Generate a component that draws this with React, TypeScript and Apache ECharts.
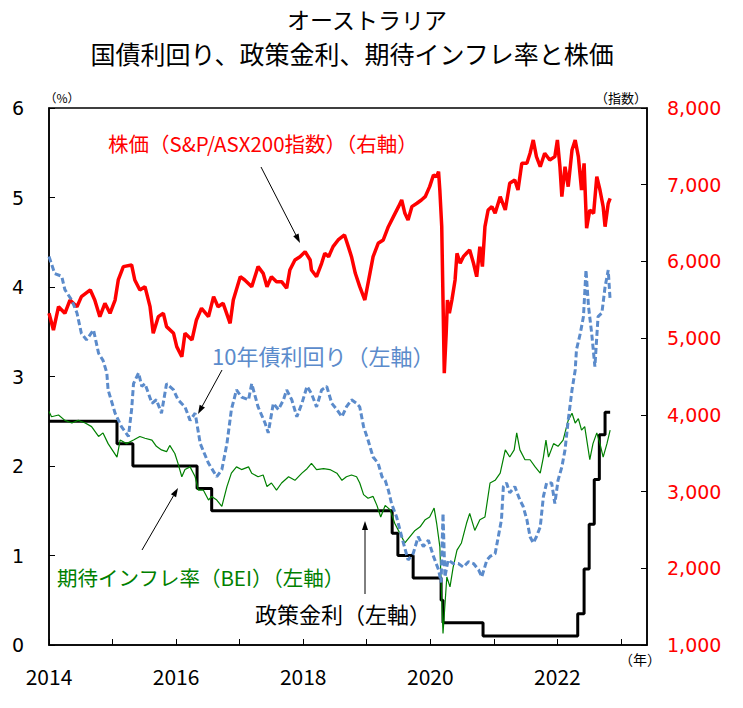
import React, { useEffect, useRef } from "react";
import * as echarts from "echarts";

const titleLine1 = "オーストラリア";
const titleLine2 = "国債利回り、政策金利、期待インフレ率と株価";
const labeledYears = [2014, 2016, 2018, 2020, 2022];

// S&P/ASX200 index (right axis) [decimal year, index]
const asx200: [number, number][] = [
  [2014.0, 5324], [2014.07, 5106], [2014.15, 5410], [2014.25, 5324], [2014.33, 5497], [2014.44, 5410],
  [2014.51, 5541], [2014.65, 5628], [2014.72, 5497], [2014.8, 5280], [2014.88, 5454], [2014.96, 5324],
  [2015.04, 5497], [2015.09, 5758], [2015.17, 5932], [2015.3, 5954], [2015.35, 5758], [2015.43, 5628],
  [2015.51, 5671], [2015.59, 5410], [2015.64, 5063], [2015.72, 5280], [2015.8, 5324], [2015.85, 5150],
  [2015.96, 5063], [2016.01, 4889], [2016.09, 4758], [2016.14, 5063], [2016.25, 4976], [2016.32, 5237],
  [2016.4, 5389], [2016.51, 5280], [2016.59, 5541], [2016.66, 5410], [2016.74, 5454], [2016.85, 5193],
  [2016.9, 5497], [2017.01, 5801], [2017.08, 5758], [2017.19, 5671], [2017.29, 5932], [2017.37, 5845],
  [2017.43, 5671], [2017.5, 5801], [2017.58, 5736], [2017.66, 5736], [2017.74, 5650], [2017.79, 5889],
  [2017.87, 6019], [2017.95, 6062], [2018.03, 6127], [2018.11, 6019], [2018.13, 5889], [2018.21, 5801],
  [2018.29, 5976], [2018.34, 6106], [2018.4, 6062], [2018.47, 6193], [2018.55, 6280], [2018.65, 6345],
  [2018.71, 6193], [2018.76, 6062], [2018.82, 5845], [2018.89, 5671], [2018.97, 5497], [2019.05, 5845],
  [2019.1, 6062], [2019.18, 6236], [2019.26, 6280], [2019.34, 6453], [2019.42, 6584], [2019.5, 6714],
  [2019.55, 6801], [2019.6, 6627], [2019.65, 6540], [2019.71, 6714], [2019.79, 6758], [2019.86, 6801],
  [2019.92, 6844], [2019.99, 6975], [2020.05, 7127], [2020.1, 7105], [2020.13, 7170], [2020.15, 6931],
  [2020.18, 6453], [2020.2, 5497], [2020.22, 4542], [2020.25, 5063], [2020.27, 5497], [2020.3, 5324],
  [2020.34, 5497], [2020.39, 5758], [2020.42, 6106], [2020.47, 5976], [2020.52, 6062], [2020.57, 6106],
  [2020.62, 6149], [2020.68, 5976], [2020.73, 5801], [2020.78, 6193], [2020.82, 5932], [2020.86, 6453],
  [2020.91, 6671], [2020.97, 6714], [2021.02, 6627], [2021.1, 6844], [2021.18, 6671], [2021.25, 7019],
  [2021.33, 7062], [2021.38, 6931], [2021.44, 7279], [2021.52, 7279], [2021.57, 7410], [2021.62, 7583],
  [2021.67, 7366], [2021.73, 7235], [2021.8, 7410], [2021.88, 7323], [2021.96, 7366], [2022.0, 7583],
  [2022.04, 7235], [2022.07, 6844], [2022.12, 7235], [2022.17, 6975], [2022.23, 7453], [2022.28, 7583],
  [2022.33, 7366], [2022.38, 6931], [2022.42, 7279], [2022.46, 6432], [2022.51, 6671], [2022.57, 6627],
  [2022.62, 7105], [2022.67, 6931], [2022.72, 6714], [2022.75, 6453], [2022.8, 6758], [2022.83, 6823],
];

// 10-year government bond yield (left axis, %)
const bond10y: [number, number][] = [
  [2014.0, 4.34], [2014.09, 4.15], [2014.2, 4.12], [2014.25, 3.97], [2014.36, 3.85], [2014.44, 3.71],
  [2014.51, 3.48], [2014.59, 3.41], [2014.7, 3.52], [2014.78, 3.26], [2014.85, 3.18], [2014.91, 3.04],
  [2014.93, 2.85], [2015.04, 2.59], [2015.14, 2.44], [2015.25, 2.33], [2015.3, 2.63], [2015.33, 2.92],
  [2015.41, 3.04], [2015.46, 2.89], [2015.51, 2.92], [2015.62, 2.7], [2015.69, 2.74], [2015.77, 2.59],
  [2015.85, 2.92], [2015.96, 2.85], [2016.03, 2.74], [2016.14, 2.66], [2016.22, 2.51], [2016.3, 2.59],
  [2016.38, 2.25], [2016.51, 2.03], [2016.64, 1.88], [2016.72, 1.96], [2016.8, 2.25], [2016.87, 2.63],
  [2016.95, 2.85], [2017.03, 2.77], [2017.14, 2.74], [2017.19, 2.92], [2017.29, 2.66], [2017.4, 2.48],
  [2017.45, 2.37], [2017.53, 2.7], [2017.61, 2.63], [2017.69, 2.74], [2017.74, 2.85], [2017.82, 2.74],
  [2017.9, 2.55], [2017.98, 2.7], [2018.06, 2.89], [2018.13, 2.81], [2018.21, 2.66], [2018.29, 2.85],
  [2018.37, 2.89], [2018.45, 2.7], [2018.53, 2.63], [2018.61, 2.55], [2018.68, 2.66], [2018.76, 2.74],
  [2018.84, 2.7], [2018.89, 2.66], [2018.95, 2.44], [2019.02, 2.29], [2019.1, 2.1], [2019.18, 2.03],
  [2019.24, 1.88], [2019.29, 1.84], [2019.34, 1.73], [2019.39, 1.58], [2019.47, 1.43], [2019.55, 1.21],
  [2019.65, 0.95], [2019.73, 1.02], [2019.81, 1.21], [2019.89, 1.1], [2019.97, 1.17], [2020.05, 0.99],
  [2020.13, 0.84], [2020.17, 0.7], [2020.2, 1.47], [2020.23, 0.76], [2020.28, 0.95], [2020.36, 0.91],
  [2020.44, 0.91], [2020.52, 0.87], [2020.6, 0.93], [2020.68, 0.91], [2020.76, 0.84], [2020.81, 0.76],
  [2020.89, 0.95], [2020.94, 0.99], [2021.02, 1.02], [2021.07, 1.21], [2021.12, 1.4], [2021.15, 1.77],
  [2021.2, 1.81], [2021.25, 1.7], [2021.33, 1.77], [2021.41, 1.62], [2021.46, 1.55], [2021.52, 1.4],
  [2021.57, 1.21], [2021.62, 1.14], [2021.67, 1.21], [2021.73, 1.32], [2021.78, 1.66], [2021.83, 1.81],
  [2021.91, 1.81], [2021.96, 1.58], [2022.01, 1.84], [2022.07, 1.99], [2022.12, 2.18], [2022.17, 2.51],
  [2022.23, 2.85], [2022.28, 3.07], [2022.3, 3.3], [2022.36, 3.48], [2022.41, 3.67], [2022.45, 4.19],
  [2022.49, 3.78], [2022.54, 3.48], [2022.59, 3.11], [2022.64, 3.67], [2022.7, 3.71], [2022.75, 4.0],
  [2022.8, 4.19], [2022.83, 3.85],
];

// Break-even inflation (left axis, %)
const bei: [number, number][] = [
  [2014.0, 2.61], [2014.04, 2.55], [2014.15, 2.57], [2014.25, 2.51], [2014.36, 2.48], [2014.46, 2.51],
  [2014.57, 2.48], [2014.67, 2.44], [2014.78, 2.33], [2014.85, 2.37], [2014.93, 2.25], [2015.07, 2.1],
  [2015.12, 2.29], [2015.22, 2.25], [2015.33, 2.29], [2015.43, 2.33], [2015.51, 2.31], [2015.62, 2.29],
  [2015.69, 2.22], [2015.77, 2.18], [2015.85, 2.16], [2015.9, 2.23], [2015.98, 2.14], [2016.03, 2.03],
  [2016.09, 1.88], [2016.14, 1.96], [2016.22, 1.99], [2016.3, 1.88], [2016.35, 1.73], [2016.43, 1.73],
  [2016.51, 1.62], [2016.56, 1.66], [2016.64, 1.62], [2016.72, 1.55], [2016.8, 1.77], [2016.87, 1.92],
  [2016.95, 1.99], [2017.03, 1.96], [2017.14, 1.99], [2017.19, 1.92], [2017.29, 1.88], [2017.37, 1.9],
  [2017.43, 1.77], [2017.5, 1.81], [2017.58, 1.73], [2017.66, 1.81], [2017.77, 1.88], [2017.87, 1.84],
  [2017.98, 1.92], [2018.06, 1.97], [2018.13, 2.03], [2018.21, 1.96], [2018.32, 1.97], [2018.42, 1.96],
  [2018.53, 1.92], [2018.61, 1.84], [2018.68, 1.88], [2018.76, 1.9], [2018.84, 1.88], [2018.89, 1.81],
  [2018.95, 1.68], [2019.02, 1.64], [2019.1, 1.66], [2019.16, 1.56], [2019.22, 1.43], [2019.29, 1.56],
  [2019.37, 1.51], [2019.44, 1.36], [2019.52, 1.25], [2019.6, 1.14], [2019.68, 1.21], [2019.76, 1.28],
  [2019.84, 1.32], [2019.92, 1.4], [2019.99, 1.43], [2020.06, 1.53], [2020.1, 1.36], [2020.15, 1.1],
  [2020.2, 0.13], [2020.26, 0.76], [2020.31, 0.65], [2020.36, 0.87], [2020.42, 1.06], [2020.49, 1.14],
  [2020.57, 1.36], [2020.62, 1.47], [2020.7, 1.28], [2020.78, 1.4], [2020.86, 1.43], [2020.94, 1.81],
  [2021.02, 1.84], [2021.1, 1.92], [2021.18, 2.18], [2021.25, 2.1], [2021.32, 2.18], [2021.36, 2.37],
  [2021.41, 2.18], [2021.49, 2.07], [2021.57, 2.07], [2021.65, 1.99], [2021.73, 1.92], [2021.78, 2.1],
  [2021.82, 2.29], [2021.86, 2.1], [2021.94, 2.25], [2022.01, 2.22], [2022.09, 2.29], [2022.17, 2.51],
  [2022.23, 2.59], [2022.28, 2.48], [2022.33, 2.53], [2022.38, 2.4], [2022.43, 2.44], [2022.51, 2.07],
  [2022.56, 2.25], [2022.62, 2.37], [2022.67, 2.25], [2022.72, 2.1], [2022.78, 2.25], [2022.83, 2.4],
];

// Policy rate (left axis, %), value holds until next change
const policyRate: [number, number][] = [
  [2014.0, 2.5], [2015.07, 2.25], [2015.32, 2.0], [2016.33, 1.75], [2016.56, 1.5], [2019.4, 1.25],
  [2019.49, 1.0], [2019.73, 0.75], [2020.17, 0.5], [2020.2, 0.25], [2020.83, 0.1], [2022.32, 0.35],
  [2022.42, 0.85], [2022.5, 1.35], [2022.58, 1.85], [2022.66, 2.35], [2022.75, 2.6], [2022.83, 2.6],
];

const CJK = '"Noto Sans CJK JP", "Noto Sans", sans-serif';
const NUM = '"DejaVu Sans", sans-serif';

function arrow(x1: number, y1: number, x2: number, y2: number) {
  const dx = x2 - x1, dy = y2 - y1;
  const len = Math.sqrt(dx * dx + dy * dy);
  const ux = dx / len, uy = dy / len;
  const px = -uy, py = ux;
  const bx = x2 - 9 * ux, by = y2 - 9 * uy;
  return [
    { type: "line", shape: { x1, y1, x2: bx, y2: by }, style: { stroke: "#000", lineWidth: 1 }, z: 100 },
    {
      type: "polygon",
      shape: { points: [[x2, y2], [bx + 3 * px, by + 3 * py], [bx - 3 * px, by - 3 * py]] },
      style: { fill: "#000" },
      z: 100,
    },
  ];
}

function label(text: string, x: number, y: number, color: string, size = 20, align = "left", family = CJK) {
  return {
    type: "text",
    x,
    y,
    z: 100,
    style: { text, fill: color, font: `${size}px ${family}`, textAlign: align, textVerticalAlign: "middle", lineHeight: size },
  };
}

export default function App() {
  const ref = useRef<HTMLDivElement>(null);
  useEffect(() => {
    document.body.style.margin = "0";
    if (!ref.current) return;
    const chart = echarts.init(ref.current, null, { renderer: "svg" });
    chart.setOption({
      animation: false,
      backgroundColor: "#fff",
      textStyle: { fontFamily: CJK },
      grid: { left: 49, right: 96, top: 108, bottom: 63, show: true, borderColor: "#000", borderWidth: 1.5, backgroundColor: "transparent" },
      xAxis: {
        type: "value",
        min: 2014,
        max: 2023.41,
        interval: 1,
        splitLine: { show: false },
        axisLine: { lineStyle: { color: "#000", width: 1.5 } },
        axisTick: { inside: true, length: 6, lineStyle: { color: "#000", width: 1 } },
        axisLabel: {
          margin: 20,
          color: "#000",
          fontSize: 21,
          fontFamily: CJK,
          showMaxLabel: false,
          formatter: (v: number) => (labeledYears.includes(v) ? String(v) : ""),
        },
      },
      yAxis: [
        {
          type: "value",
          position: "left",
          min: 0,
          max: 6,
          interval: 1,
          splitLine: { show: false },
          axisLine: { show: true, lineStyle: { color: "#000", width: 1.5 } },
          axisTick: { show: true, inside: true, length: 6, lineStyle: { color: "#000" } },
          axisLabel: { margin: 25, color: "#000", fontSize: 19, fontFamily: NUM },
        },
        {
          type: "value",
          position: "right",
          min: 1000,
          max: 8000,
          interval: 1000,
          splitLine: { show: false },
          axisLine: { show: true, lineStyle: { color: "#000", width: 1.5 } },
          axisTick: { show: true, inside: true, length: 6, lineStyle: { color: "#000" } },
          axisLabel: {
            margin: 20,
            color: "#FF0000",
            fontSize: 19,
            fontFamily: NUM,
            formatter: (v: number) => v.toLocaleString("en-US"),
          },
        },
      ],
      series: [
        {
          name: "株価",
          type: "line",
          yAxisIndex: 1,
          data: asx200,
          showSymbol: false,
          lineStyle: { color: "#FF0000", width: 3.5 },
          z: 2,
        },
        {
          name: "政策金利",
          type: "line",
          yAxisIndex: 0,
          step: "end",
          data: policyRate,
          showSymbol: false,
          lineStyle: { color: "#000", width: 3 },
          z: 3,
        },
        {
          name: "期待インフレ率",
          type: "line",
          yAxisIndex: 0,
          data: bei,
          showSymbol: false,
          lineStyle: { color: "#008000", width: 1.2 },
          z: 4,
        },
        {
          name: "10年債利回り",
          type: "line",
          yAxisIndex: 0,
          data: bond10y,
          showSymbol: false,
          lineStyle: { color: "#5B8BCB", width: 3, type: [6, 3] },
          z: 5,
        },
      ],
      graphic: [
        label(titleLine1, 367, 19, "#000", 23, "center"),
        label(titleLine2, 352, 53, "#000", 25, "center"),
        label("（%）", 62, 97, "#000", 12, "center"),
        label("（指数）", 621, 97, "#000", 13, "center"),
        label("（年）", 640, 659, "#000", 14, "center"),
        label("株価（S&P/ASX200指数）（右軸）", 108, 143, "#FF0000", 20.5),
        label("10年債利回り（左軸）", 212, 355, "#5B8BCB", 22),
        label("期待インフレ率（BEI）（左軸）", 57, 577, "#008000", 20.5),
        label("政策金利（左軸）", 255, 613, "#000", 22),
        ...arrow(261, 167, 300, 243),
        ...arrow(222, 370, 198, 414),
        ...arrow(142, 550, 178, 488),
        ...arrow(365, 594, 365, 521),
      ],
    });
    return () => chart.dispose();
  }, []);
  return <div ref={ref} style={{ width: 743, height: 708 }} />;
}
